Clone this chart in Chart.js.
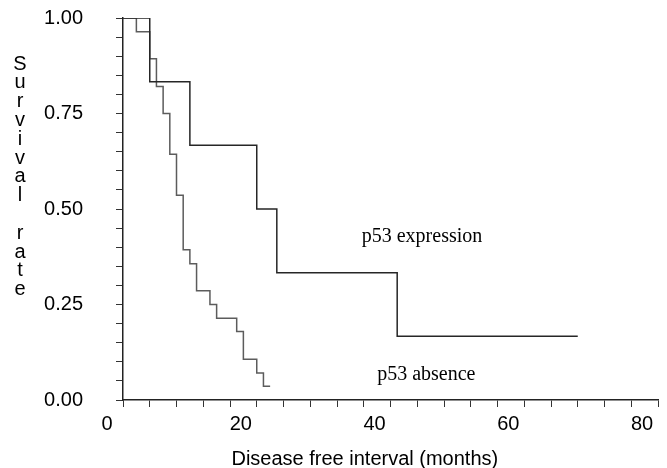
<!DOCTYPE html>
<html>
<head>
<meta charset="utf-8">
<script src="https://cdn.jsdelivr.net/npm/chart.js@4.4.1/dist/chart.umd.min.js"></script>
<style>
  html, body { margin: 0; padding: 0; background: #ffffff; }
  #wrap { width: 667px; height: 468px; }
</style>
</head>
<body>
<div id="wrap"><canvas id="km" width="667" height="468"></canvas></div>
<script>
// Kaplan-Meier estimates: event times (months) and survival after each event.
const expressionMonths = [0, 4, 10, 20, 23, 41, 68];
const expressionSurvival = [1, 0.833, 0.667, 0.5, 0.333, 0.167, 0.167];

const absenceMonths = [0, 2, 4, 5, 6, 7, 8, 9, 10, 11, 13, 14, 17, 18, 20, 21, 22];
const absenceSurvival = [1, 0.964, 0.893, 0.821, 0.75, 0.643, 0.536, 0.393, 0.357,
  0.286, 0.25, 0.214, 0.179, 0.107, 0.071, 0.036, 0.036];

const xLabelEvery = 20;   // months between numbered ticks
const yLabelEvery = 0.25; // survival between numbered ticks

const toPoints = (xs, ys) => xs.map((x, i) => ({x: x, y: ys[i]}));

const sansFont = '"Liberation Sans", Arial, sans-serif';
const serifFont = '"Liberation Serif", "Times New Roman", serif';

// Curve names written next to each curve, anchored in data units.
const curveLabels = [
  {text: 'p53 expression', x: 35.7, y: 0.427},
  {text: 'p53 absence', x: 38.0, y: 0.067},
];

const textPlugin = {
  id: 'kmText',
  afterDraw: (chart) => {
    const {ctx, chartArea, scales: {x, y}} = chart;
    ctx.save();
    ctx.fillStyle = '#000000';

    // Curve labels
    ctx.font = '20px ' + serifFont;
    ctx.textAlign = 'left';
    ctx.textBaseline = 'middle';
    curveLabels.forEach(l => {
      ctx.fillText(l.text, x.getPixelForValue(l.x), y.getPixelForValue(l.y));
    });

    // Y title, one letter per line
    ctx.font = '20px ' + sansFont;
    ctx.textAlign = 'center';
    const yTitle = 'Survival rate';
    for (let i = 0; i < yTitle.length; i++) {
      ctx.fillText(yTitle[i], 20, 64 + i * 18.8);
    }

    // X title
    ctx.textBaseline = 'alphabetic';
    ctx.fillText('Disease free interval (months)',
      chartArea.left + (chartArea.right - chartArea.left) * 0.452, 465);
    ctx.restore();
  }
};

const config = {
  type: 'line',
  data: {
    datasets: [
      {
        label: 'p53 expression',
        data: toPoints(expressionMonths, expressionSurvival),
        stepped: 'before',
        borderColor: '#262626',
        borderWidth: 1.5,
        pointRadius: 0,
        fill: false,
      },
      {
        label: 'p53 absence',
        data: toPoints(absenceMonths, absenceSurvival),
        stepped: 'before',
        borderColor: '#5c5c5c',
        borderWidth: 1.5,
        pointRadius: 0,
        fill: false,
      },
    ]
  },
  options: {
    responsive: false,
    animation: false,
    layout: {
      padding: {top: 18, right: 9, left: 0, bottom: 0}
    },
    plugins: {
      legend: {display: false},
      tooltip: {enabled: false},
    },
    scales: {
      x: {
        type: 'linear',
        min: 0,
        max: 80,
        // fixed axis band; the layout padding alone sets the chart area
        afterFit: (scale) => {
          scale.height = 68;
          scale.paddingLeft = 0;
          scale.paddingRight = 0;
        },
        ticks: {
          stepSize: 4,
          maxTicksLimit: 21,
          autoSkip: false,
          maxRotation: 0,
          labelOffset: -16,
          padding: 5,
          color: '#000000',
          font: {family: sansFont, size: 20},
          callback: (value) => value % xLabelEvery === 0 ? String(value) : '',
        },
        grid: {
          drawOnChartArea: false,
          tickLength: 7,
          color: '#333333',
        },
        border: {color: '#222222', width: 1.5},
      },
      y: {
        min: 0,
        max: 1,
        afterFit: (scale) => {
          scale.width = 123;
          scale.paddingTop = 0;
          scale.paddingBottom = 0;
        },
        ticks: {
          stepSize: 0.05,
          maxTicksLimit: 21,
          autoSkip: false,
          padding: 33,
          color: '#000000',
          font: {family: sansFont, size: 20},
          callback: (value) => Math.round(value * 100) % Math.round(yLabelEvery * 100) === 0
            ? value.toFixed(2) : '',
        },
        grid: {
          drawOnChartArea: false,
          tickLength: 7,
          color: '#333333',
        },
        border: {color: '#222222', width: 1.5},
      }
    }
  },
  plugins: [textPlugin]
};

new Chart(document.getElementById('km'), config);
</script>
</body>
</html>
